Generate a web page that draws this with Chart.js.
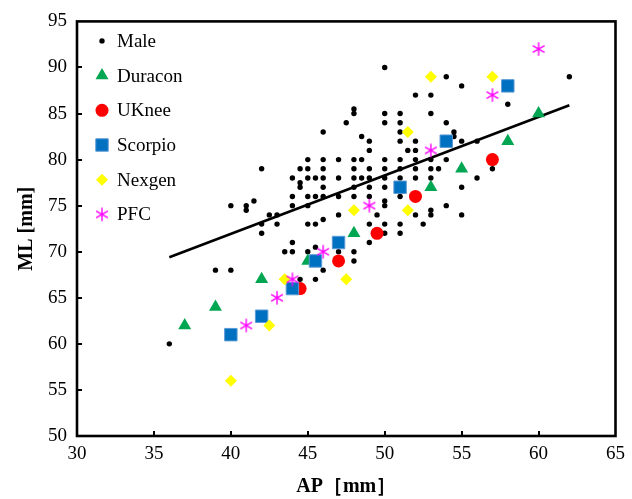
<!DOCTYPE html>
<html><head><meta charset="utf-8">
<script src="https://cdn.jsdelivr.net/npm/chart.js@4/dist/chart.umd.min.js"></script>
<style>html,body{margin:0;padding:0;background:#fff}#wrap{width:632px;height:499px}</style>
</head><body><div id="wrap"><canvas id="c" width="632" height="499"></canvas></div>
<script>
// ---- data ----
const xTicks = [30, 35, 40, 45, 50, 55, 60, 65];
const yTicks = [50, 55, 60, 65, 70, 75, 80, 85, 90, 95];

const maleAP = [
  36, 39, 40, 40, 41, 41, 41.5, 42, 42, 42, 42.5, 43, 43, 43.5,
  44, 44, 44, 44, 44, 44.5, 44.5, 44.5, 44.5,
  45, 45, 45, 45, 45, 45, 45, 45.5, 45.5, 45.5, 45.5, 45.5,
  46, 46, 46, 46, 46, 46, 46, 46, 47, 47, 47, 47, 47, 47.5,
  48, 48, 48, 48, 48, 48, 48, 48, 48, 48.5, 48.5, 48.5,
  49, 49, 49, 49, 49, 49, 49, 49, 49.5,
  50, 50, 50, 50, 50, 50, 50, 50, 50, 50, 50,
  51, 51, 51, 51, 51, 51, 51, 51, 51, 51, 51.5,
  52, 52, 52, 52, 52, 52, 52, 52.5,
  53, 53, 53, 53, 53, 53, 53, 53.5,
  54, 54, 54, 54, 54.5, 54.5, 55, 55, 55, 55, 56, 56, 57, 58, 62
];
const maleML = [
  60, 68, 75, 68, 75, 74.5, 75.5, 79, 73, 72, 74, 74, 73, 70,
  78, 76, 75, 71, 70, 79, 77.5, 77, 67,
  80, 79, 78, 76, 75, 73, 70, 78, 76, 73, 70.5, 67,
  83, 80, 79, 78, 77, 76, 73.5, 68, 80, 78, 76, 74, 70, 84,
  85.5, 85, 80, 79, 78, 77, 76, 70, 69, 82.5, 80, 78,
  82, 81, 79, 78, 77, 76, 73, 71, 74,
  90, 85, 84, 80, 79, 78, 77, 75.5, 75, 73, 72,
  85, 84, 83, 82, 80, 79, 78, 76, 73, 72, 81,
  87, 82, 81, 80, 79, 78, 74, 73,
  87, 85, 80, 79, 78, 74.5, 74, 79,
  89, 84, 80, 75, 83, 82.5, 88, 82, 77, 74, 82, 78, 79, 86, 89
];

const duraconAP = [37, 39, 42, 45, 48, 53, 55, 58, 60];
const duraconML = [62, 64, 67, 69, 72, 77, 79, 82, 85];

const ukneeAP = [44.5, 47, 49.5, 52, 57];
const ukneeML = [66, 69, 72, 76, 80];

const scorpioAP = [40, 42, 44, 45.5, 47, 51, 54, 58];
const scorpioML = [61, 63, 66, 69, 71, 77, 82, 88];

const nexgenAP = [40, 42.5, 43.5, 47.5, 48, 51.5, 51.5, 53, 57];
const nexgenML = [56, 62, 67, 67, 74.5, 74.5, 83, 89, 89];

const pfcAP = [41, 43, 44, 46, 49, 53, 57, 60];
const pfcML = [62, 65, 67, 70, 75, 81, 87, 92];

const trendAP = [36, 62];
const trendML = [69.4, 85.9];

// ---- helpers ----
const pts = (xs, ys) => xs.map((x, i) => ({x: x, y: ys[i]}));

function makeAsterisk(color) {
  const size = 16;
  const c = document.createElement('canvas');
  c.width = size; c.height = size;
  const g = c.getContext('2d');
  g.strokeStyle = color; g.lineWidth = 1.4;
  const m = size / 2, r = 6.8;
  const dx = r * Math.cos(Math.PI / 6), dy = r * Math.sin(Math.PI / 6);
  g.beginPath();
  g.moveTo(m, m - r); g.lineTo(m, m + r);
  g.moveTo(m - dx, m - dy); g.lineTo(m + dx, m + dy);
  g.moveTo(m - dx, m + dy); g.lineTo(m + dx, m - dy);
  g.stroke();
  return c;
}
const asterisk = makeAsterisk('#FF00FF');

const FONT = '"Liberation Serif", "Times New Roman", serif';

const legendPlugin = {
  id: 'insideLegend',
  afterDatasetsDraw(chart) {
    const {ctx, chartArea} = chart;
    ctx.save();
    const items = chart.data.datasets.filter(d => d.inLegend);
    items.forEach((ds, i) => {
      const x = chartArea.left + 25;
      const y = chartArea.top + 19.5 + i * 34.7;
      ctx.fillStyle = ds.backgroundColor;
      ctx.strokeStyle = ds.borderColor;
      ctx.lineWidth = ds.borderWidth || 0;
      Chart.helpers.drawPoint(ctx, {
        pointStyle: ds.pointStyle, radius: ds.pointRadius, rotation: 0,
        borderWidth: ds.borderWidth || 0
      }, x, y);
      ctx.fillStyle = '#000';
      ctx.font = '19px ' + FONT;
      ctx.textBaseline = 'middle';
      ctx.textAlign = 'left';
      ctx.fillText(ds.label, chartArea.left + 40, y + 1);
    });
    ctx.restore();
  }
};

const framePlugin = {
  id: 'frame',
  afterDraw(chart) {
    const {ctx, chartArea: a, scales} = chart;
    ctx.save();
    ctx.strokeStyle = '#000';
    ctx.lineWidth = 2;
    ctx.beginPath();
    xTicks.slice(1, -1).forEach(v => {
      const px = Math.round(scales.x.getPixelForValue(v));
      ctx.moveTo(px, a.bottom); ctx.lineTo(px, a.bottom - 5);
    });
    yTicks.slice(1, -1).forEach(v => {
      const py = Math.round(scales.y.getPixelForValue(v));
      ctx.moveTo(a.left, py); ctx.lineTo(a.left + 5, py);
    });
    ctx.stroke();
    ctx.lineWidth = 2.6;
    ctx.strokeRect(a.left, a.top, a.right - a.left, a.bottom - a.top);
    ctx.restore();
  }
};

const data = {
  datasets: [
    {label: 'Male', data: pts(maleAP, maleML), inLegend: true, order: 10,
     pointStyle: 'circle', pointRadius: 2.7, backgroundColor: '#000', borderColor: '#000', borderWidth: 0},
    {label: 'trend', data: pts(trendAP, trendML), inLegend: false, order: 9, showLine: true,
     pointRadius: 0, borderColor: '#000', borderWidth: 2.6, backgroundColor: '#000'},
    {label: 'Duracon', data: pts(duraconAP, duraconML), inLegend: true, order: 5,
     pointStyle: 'triangle', pointRadius: 7.5, backgroundColor: '#00A651', borderColor: '#00A651', borderWidth: 0},
    {label: 'UKnee', data: pts(ukneeAP, ukneeML), inLegend: true, order: 4,
     pointStyle: 'circle', pointRadius: 6.5, backgroundColor: '#FF0000', borderColor: '#FF0000', borderWidth: 0},
    {label: 'Scorpio', data: pts(scorpioAP, scorpioML), inLegend: true, order: 3,
     pointStyle: 'rect', pointRadius: 8.8, backgroundColor: '#0070C0', borderColor: '#5B9BD5', borderWidth: 1},
    {label: 'Nexgen', data: pts(nexgenAP, nexgenML), inLegend: true, order: 2,
     pointStyle: 'rectRot', pointRadius: 6, backgroundColor: '#FFFF00', borderColor: '#FFFF00', borderWidth: 0},
    {label: 'PFC', data: pts(pfcAP, pfcML), inLegend: true, order: 1,
     pointStyle: asterisk, pointRadius: 7, backgroundColor: '#FF00FF', borderColor: '#FF00FF', borderWidth: 0}
  ]
};

new Chart(document.getElementById('c'), {
  type: 'scatter',
  data: data,
  options: {
    responsive: false,
    devicePixelRatio: 1,
    animation: false,
    events: [],
    layout: {padding: {left: 0, right: 12.5, top: 15.7, bottom: 0}},
    plugins: {legend: {display: false}, tooltip: {enabled: false}},
    elements: {point: {hoverRadius: 0}},
    scales: {
      x: {
        type: 'linear', min: 30, max: 65,
        afterBuildTicks(s) { s.ticks = xTicks.map(v => ({value: v})); },
        afterFit(s) { s.height = 63; },
        ticks: {font: {family: FONT, size: 19}, color: '#000', padding: 7, maxRotation: 0, autoSkip: false},
        grid: {display: false, drawTicks: false},
        border: {display: false},
        title: {display: true, text: 'AP［mm］', color: '#000',
                font: {family: FONT, size: 20, weight: 'bold'}, padding: {top: 0, bottom: 0}}
      },
      y: {
        type: 'linear', min: 50, max: 95,
        afterBuildTicks(s) { s.ticks = yTicks.map(v => ({value: v})); },
        afterFit(s) { s.width = 77; },
        ticks: {font: {family: FONT, size: 19}, color: '#000', padding: 10, autoSkip: false},
        grid: {display: false, drawTicks: false},
        border: {display: false},
        title: {display: true, text: 'ML [mm]', color: '#000',
                font: {family: FONT, size: 20, weight: 'bold'}, padding: {top: 15, bottom: 0}}
      }
    }
  },
  plugins: [legendPlugin, framePlugin]
});
</script>
</body></html>
